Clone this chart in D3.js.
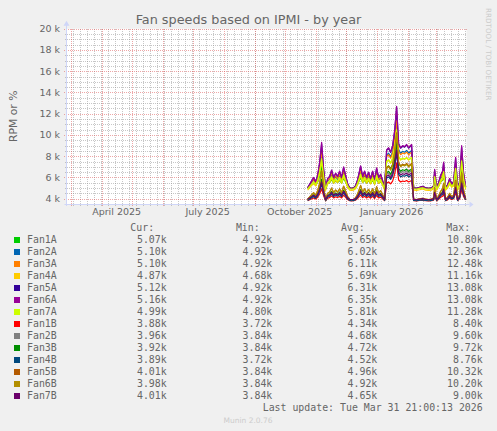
<!DOCTYPE html>
<html>
<head>
<meta charset="utf-8">
<script src="https://d3js.org/d3.v7.min.js"></script>
<style>
    html, body { margin: 0; padding: 0; background: #f0f0f0; }
    svg { display: block; }
</style>
</head>
<body>
<div id="chart"></div>
<script>
// Sample dates (daily averages, every ~2 days)
const dates = [
    "2025-10-24", "2025-10-27", "2025-10-30", "2025-11-01", "2025-11-03", "2025-11-05", "2025-11-07", "2025-11-09", "2025-11-11", "2025-11-13",
    "2025-11-15", "2025-11-17", "2025-11-19", "2025-11-21", "2025-11-23", "2025-11-25", "2025-11-27", "2025-11-29", "2025-12-01", "2025-12-03",
    "2025-12-05", "2025-12-07", "2025-12-09", "2025-12-11", "2025-12-13", "2025-12-16", "2025-12-18", "2025-12-20", "2025-12-22", "2025-12-24",
    "2025-12-26", "2025-12-28", "2025-12-30", "2026-01-01", "2026-01-03", "2026-01-05", "2026-01-07", "2026-01-09",
    "2026-01-11", "2026-01-13", "2026-01-15", "2026-01-17", "2026-01-19", "2026-01-21", "2026-01-23", "2026-01-25", "2026-01-27", "2026-01-29", "2026-01-31", "2026-02-02", "2026-02-05",
    "2026-02-07", "2026-02-10", "2026-02-13", "2026-02-16", "2026-02-19", "2026-02-22", "2026-02-25", "2026-02-27", "2026-02-28",
    "2026-03-02", "2026-03-04", "2026-03-06", "2026-03-08", "2026-03-09", "2026-03-11", "2026-03-13", "2026-03-15", "2026-03-17", "2026-03-19",
    "2026-03-21", "2026-03-23", "2026-03-25", "2026-03-27", "2026-03-29", "2026-03-31"
];

// Fan speeds in thousands of RPM
const fan1A = [
    4.98, 5.22, 5.46, 5.27, 5.56, 6.14, 7.05, 5.85, 4.96, 5.42,
    5.51, 5.80, 5.46, 5.66, 5.51, 5.75, 5.46, 5.94, 5.56, 5.18,
    4.98, 4.96, 4.98, 5.08, 5.37, 5.99, 5.51, 5.75, 5.46, 5.70,
    5.42, 5.75, 5.37, 5.90, 5.46, 5.61, 5.32, 4.98,
    6.97, 7.08, 6.86, 7.19, 7.96, 9.22, 7.30, 7.08, 7.19, 7.13, 7.24, 7.08, 7.24,
    4.98, 4.96, 5.01, 5.06, 4.98, 4.96, 4.98, 5.08, 5.82,
    4.98, 5.22, 5.56, 5.75, 6.16, 4.98, 5.13, 5.42, 5.18, 5.27,
    6.38, 4.98, 5.27, 6.90, 5.66, 5.07
];
const fan2A = [
    5.01, 5.38, 5.76, 5.46, 5.91, 6.81, 8.23, 6.36, 4.97, 5.68,
    5.83, 6.28, 5.76, 6.06, 5.83, 6.21, 5.76, 6.51, 5.91, 5.31,
    5.01, 4.97, 5.01, 5.16, 5.61, 6.58, 5.83, 6.21, 5.76, 6.13,
    5.68, 6.21, 5.61, 6.43, 5.76, 5.98, 5.53, 5.01,
    8.11, 8.28, 7.94, 8.45, 9.66, 11.64, 8.63, 8.28, 8.45, 8.37, 8.54, 8.28, 8.54,
    5.01, 4.97, 5.05, 5.12, 5.01, 4.97, 5.01, 5.16, 6.32,
    5.01, 5.38, 5.91, 6.21, 6.85, 5.01, 5.23, 5.68, 5.31, 5.46,
    7.18, 5.01, 5.46, 8.01, 6.06, 5.10
];
const fan3A = [
    5.02, 5.42, 5.82, 5.50, 5.98, 6.94, 8.46, 6.46, 4.98, 5.74,
    5.90, 6.38, 5.82, 6.14, 5.90, 6.30, 5.82, 6.62, 5.98, 5.34,
    5.02, 4.98, 5.02, 5.18, 5.66, 6.70, 5.90, 6.30, 5.82, 6.22,
    5.74, 6.30, 5.66, 6.54, 5.82, 6.06, 5.58, 5.02,
    7.97, 8.14, 7.81, 8.30, 9.45, 11.34, 8.47, 8.14, 8.30, 8.22, 8.38, 8.14, 8.38,
    5.02, 4.98, 5.06, 5.14, 5.02, 4.98, 5.02, 5.18, 6.42,
    5.02, 5.42, 5.98, 6.30, 6.98, 5.02, 5.26, 5.74, 5.34, 5.50,
    7.34, 5.02, 5.50, 8.22, 6.14, 5.10
];
const fan4A = [
    4.81, 5.13, 5.45, 5.20, 5.58, 6.35, 7.56, 5.96, 4.78, 5.39,
    5.52, 5.90, 5.45, 5.71, 5.52, 5.84, 5.45, 6.09, 5.58, 5.07,
    4.81, 4.78, 4.81, 4.94, 5.32, 6.16, 5.52, 5.84, 5.45, 5.77,
    5.39, 5.84, 5.32, 6.03, 5.45, 5.64, 5.26, 4.81,
    7.48, 7.63, 7.33, 7.78, 8.81, 10.52, 7.93, 7.63, 7.78, 7.70, 7.85, 7.63, 7.85,
    4.81, 4.78, 4.84, 4.91, 4.81, 4.78, 4.81, 4.94, 5.93,
    4.81, 5.13, 5.58, 5.84, 6.38, 4.81, 5.00, 5.39, 5.07, 5.20,
    6.67, 4.81, 5.20, 7.37, 5.71, 4.87
];
const fan5A = [
    5.03, 5.51, 5.99, 5.60, 6.18, 7.33, 9.16, 6.76, 4.98, 5.89,
    6.08, 6.66, 5.99, 6.37, 6.08, 6.56, 5.99, 6.95, 6.18, 5.41,
    5.03, 4.98, 5.03, 5.22, 5.80, 7.04, 6.08, 6.56, 5.99, 6.47,
    5.89, 6.56, 5.80, 6.85, 5.99, 6.28, 5.70, 5.03,
    8.56, 8.75, 8.36, 8.95, 10.32, 12.58, 9.15, 8.75, 8.95, 8.85, 9.05, 8.75, 9.05,
    5.03, 4.98, 5.08, 5.17, 5.03, 4.98, 5.03, 5.22, 6.71,
    5.03, 5.51, 6.18, 6.56, 7.38, 5.03, 5.32, 5.89, 5.41, 5.60,
    7.81, 5.03, 5.60, 8.87, 6.37, 5.12
];
const fan6A = [
    5.00, 5.50, 6.00, 5.60, 6.20, 7.40, 9.30, 6.80, 4.95, 5.90,
    6.10, 6.70, 6.00, 6.40, 6.10, 6.60, 6.00, 7.00, 6.20, 5.40,
    5.00, 4.95, 5.00, 5.20, 5.80, 7.10, 6.10, 6.60, 6.00, 6.50,
    5.90, 6.60, 5.80, 6.90, 6.00, 6.30, 5.70, 5.00,
    8.60, 8.80, 8.40, 9.00, 10.40, 12.70, 9.20, 8.80, 9.00, 8.90, 9.10, 8.80, 9.10,
    5.00, 4.95, 5.05, 5.15, 5.00, 4.95, 5.00, 5.20, 6.75,
    5.00, 5.50, 6.20, 6.60, 7.45, 5.00, 5.30, 5.90, 5.40, 5.60,
    7.90, 5.00, 5.60, 9.00, 6.40, 5.16
];
const fan7A = [
    4.93, 5.26, 5.59, 5.33, 5.73, 6.52, 7.77, 6.12, 4.90, 5.53,
    5.66, 6.06, 5.59, 5.86, 5.66, 5.99, 5.59, 6.25, 5.73, 5.20,
    4.93, 4.90, 4.93, 5.07, 5.46, 6.32, 5.66, 5.99, 5.59, 5.92,
    5.53, 5.99, 5.46, 6.19, 5.59, 5.79, 5.40, 4.93,
    7.53, 7.67, 7.38, 7.82, 8.82, 10.48, 7.96, 7.67, 7.82, 7.74, 7.89, 7.67, 7.89,
    4.93, 4.90, 4.97, 5.03, 4.93, 4.90, 4.93, 5.07, 6.09,
    4.93, 5.26, 5.73, 5.99, 6.55, 4.93, 5.13, 5.53, 5.20, 5.33,
    6.85, 4.93, 5.33, 7.57, 5.86, 4.99
];
const fan1B = [
    3.81, 3.94, 4.07, 3.97, 4.13, 4.44, 4.93, 4.28, 3.80, 4.05,
    4.10, 4.26, 4.07, 4.18, 4.10, 4.23, 4.07, 4.33, 4.13, 3.92,
    3.81, 3.80, 3.81, 3.87, 4.02, 4.36, 4.10, 4.23, 4.07, 4.20,
    4.05, 4.23, 4.02, 4.31, 4.07, 4.15, 4.00, 3.81,
    5.48, 5.57, 5.39, 5.66, 6.31, 7.37, 5.76, 5.57, 5.66, 5.62, 5.71, 5.57, 5.71,
    3.81, 3.80, 3.83, 3.85, 3.81, 3.80, 3.81, 3.87, 4.27,
    3.81, 3.94, 4.13, 4.23, 4.45, 3.81, 3.89, 4.05, 3.92, 4.00,
    4.57, 3.81, 4.00, 4.85, 4.18, 3.88
];
const fan2B = [
    3.90, 4.11, 4.32, 4.15, 4.41, 4.91, 5.71, 4.66, 3.88, 4.28,
    4.36, 4.62, 4.32, 4.49, 4.36, 4.57, 4.32, 4.74, 4.41, 4.07,
    3.90, 3.88, 3.90, 3.99, 4.24, 4.78, 4.36, 4.57, 4.32, 4.53,
    4.28, 4.57, 4.24, 4.70, 4.32, 4.45, 4.20, 3.90,
    6.29, 6.42, 6.16, 6.55, 7.48, 9.00, 6.69, 6.42, 6.55, 6.49, 6.62, 6.42, 6.62,
    3.90, 3.88, 3.92, 3.96, 3.90, 3.88, 3.90, 3.99, 4.64,
    3.90, 4.11, 4.41, 4.57, 4.93, 3.90, 4.03, 4.28, 4.07, 4.15,
    5.12, 3.90, 4.15, 5.58, 4.49, 3.96
];
const fan3B = [
    3.90, 4.13, 4.35, 4.17, 4.44, 4.98, 5.84, 4.71, 3.88, 4.31,
    4.40, 4.67, 4.35, 4.53, 4.40, 4.62, 4.35, 4.80, 4.44, 4.08,
    3.90, 3.88, 3.90, 3.99, 4.26, 4.85, 4.40, 4.62, 4.35, 4.58,
    4.31, 4.62, 4.26, 4.76, 4.35, 4.49, 4.22, 3.90,
    6.44, 6.58, 6.30, 6.72, 7.70, 9.31, 6.86, 6.58, 6.72, 6.65, 6.79, 6.58, 6.79,
    3.90, 3.88, 3.93, 3.97, 3.90, 3.88, 3.90, 3.99, 4.69,
    3.90, 4.13, 4.44, 4.62, 5.01, 3.90, 4.04, 4.31, 4.08, 4.17,
    5.21, 3.90, 4.17, 5.70, 4.53, 3.92
];
const fan4B = [
    3.84, 4.02, 4.20, 4.05, 4.27, 4.70, 5.39, 4.49, 3.82, 4.16,
    4.23, 4.45, 4.20, 4.34, 4.23, 4.41, 4.20, 4.56, 4.27, 3.98,
    3.84, 3.82, 3.84, 3.91, 4.13, 4.59, 4.23, 4.41, 4.20, 4.38,
    4.16, 4.41, 4.13, 4.52, 4.20, 4.31, 4.09, 3.84,
    5.94, 6.05, 5.82, 6.17, 6.98, 8.32, 6.29, 6.05, 6.17, 6.11, 6.23, 6.05, 6.23,
    3.84, 3.82, 3.86, 3.89, 3.84, 3.82, 3.84, 3.91, 4.47,
    3.84, 4.02, 4.27, 4.41, 4.72, 3.84, 3.95, 4.16, 3.98, 4.05,
    4.88, 3.84, 4.05, 5.28, 4.34, 3.89
];
const fan5B = [
    3.95, 4.26, 4.57, 4.32, 4.70, 5.44, 6.62, 5.07, 3.92, 4.51,
    4.63, 5.01, 4.57, 4.82, 4.63, 4.94, 4.57, 5.19, 4.70, 4.20,
    3.95, 3.92, 3.95, 4.08, 4.45, 5.25, 4.63, 4.94, 4.57, 4.88,
    4.51, 4.94, 4.45, 5.13, 4.57, 4.76, 4.39, 3.95,
    6.91, 7.08, 6.75, 7.24, 8.39, 10.20, 7.41, 7.08, 7.24, 7.16, 7.32, 7.08, 7.32,
    3.95, 3.92, 3.98, 4.04, 3.95, 3.92, 3.95, 4.08, 5.04,
    3.95, 4.26, 4.70, 4.94, 5.47, 3.95, 4.14, 4.51, 4.20, 4.32,
    5.75, 3.95, 4.32, 6.43, 4.82, 4.01
];
const fan6B = [
    3.95, 4.25, 4.55, 4.31, 4.67, 5.39, 6.53, 5.03, 3.92, 4.49,
    4.61, 4.97, 4.55, 4.79, 4.61, 4.91, 4.55, 5.15, 4.67, 4.19,
    3.95, 3.92, 3.95, 4.07, 4.43, 5.21, 4.61, 4.91, 4.55, 4.85,
    4.49, 4.91, 4.43, 5.09, 4.55, 4.73, 4.37, 3.95,
    6.84, 7.00, 6.68, 7.16, 8.28, 10.10, 7.32, 7.00, 7.16, 7.08, 7.24, 7.00, 7.24,
    3.95, 3.92, 3.98, 4.04, 3.95, 3.92, 3.95, 4.07, 5.00,
    3.95, 4.25, 4.67, 4.91, 5.42, 3.95, 4.13, 4.49, 4.19, 4.31,
    5.69, 3.95, 4.31, 6.35, 4.79, 3.98
];
const fan7B = [
    3.94, 4.13, 4.32, 4.17, 4.40, 4.85, 5.57, 4.62, 3.92, 4.28,
    4.36, 4.59, 4.32, 4.47, 4.36, 4.55, 4.32, 4.70, 4.40, 4.09,
    3.94, 3.92, 3.94, 4.02, 4.24, 4.74, 4.36, 4.55, 4.32, 4.51,
    4.28, 4.55, 4.24, 4.66, 4.32, 4.43, 4.21, 3.94,
    6.11, 6.23, 5.99, 6.35, 7.19, 8.57, 6.47, 6.23, 6.35, 6.29, 6.41, 6.23, 6.41,
    3.94, 3.92, 3.96, 4.00, 3.94, 3.92, 3.94, 4.02, 4.60,
    3.94, 4.13, 4.40, 4.55, 4.87, 3.94, 4.05, 4.28, 4.09, 4.17,
    5.04, 3.94, 4.17, 5.46, 4.47, 4.01
];

const seriesNames = ["Fan1A", "Fan2A", "Fan3A", "Fan4A", "Fan5A", "Fan6A", "Fan7A",
                     "Fan1B", "Fan2B", "Fan3B", "Fan4B", "Fan5B", "Fan6B", "Fan7B"];
const seriesValues = [fan1A, fan2A, fan3A, fan4A, fan5A, fan6A, fan7A,
                      fan1B, fan2B, fan3B, fan4B, fan5B, fan6B, fan7B];
const seriesColors = ["#00CC00", "#0066B3", "#FF8000", "#FFCC00", "#330099", "#990099", "#CCFF00",
                      "#FF0000", "#808080", "#008F00", "#00487D", "#B35A00", "#B38F00", "#6B006B"];

// Legend statistics as printed
const curValues = ["5.07k", "5.10k", "5.10k", "4.87k", "5.12k", "5.16k", "4.99k",
                   "3.88k", "3.96k", "3.92k", "3.89k", "4.01k", "3.98k", "4.01k"];
const minValues = ["4.92k", "4.92k", "4.92k", "4.68k", "4.92k", "4.92k", "4.80k",
                   "3.72k", "3.84k", "3.84k", "3.72k", "3.84k", "3.84k", "3.84k"];
const avgValues = ["5.65k", "6.02k", "6.11k", "5.69k", "6.31k", "6.35k", "5.81k",
                   "4.34k", "4.68k", "4.72k", "4.52k", "4.96k", "4.92k", "4.65k"];
const maxValues = ["10.80k", "12.36k", "12.48k", "11.16k", "13.08k", "13.08k", "11.28k",
                   "8.40k", "9.60k", "9.72k", "8.76k", "10.32k", "10.20k", "9.00k"];

const yTicks = [4, 6, 8, 10, 12, 14, 16, 18, 20];
const titleText = "Fan speeds based on IPMI - by year";
const yLabel = "RPM or %";
const lastUpdate = "Last update: Tue Mar 31 21:00:13 2026";
const endTime = new Date(2026, 2, 31, 21, 0, 13);

const width = 497, height = 431;
const plotLeft = 66.5, plotRight = 466.5, plotTop = 28.7, plotBottom = 204;
const sans = "'DejaVu Sans', Verdana, sans-serif";
const mono = "'DejaVu Sans Mono', monospace";
const fontColor = "#666666";
const axisColor = "#CFD6F8";
const gridColor = "rgba(143,143,143,0.5)";
const mgridColor = "rgba(222,79,79,0.5)";

const parseDate = d3.timeParse("%Y-%m-%d");
const startTime = d3.timeDay.offset(endTime, -400);

const x = d3.scaleTime().domain([startTime, endTime]).range([plotLeft, plotRight]);
const y = d3.scaleLinear().domain([3.5, 20]).range([plotBottom, plotTop]);

const svg = d3.select("#chart").append("svg")
    .attr("width", width)
    .attr("height", height)
    .attr("viewBox", `0 0 ${width} ${height}`);

svg.append("rect").attr("width", width).attr("height", height).attr("fill", "#f0f0f0");
svg.append("rect")
    .attr("x", plotLeft).attr("y", plotTop)
    .attr("width", plotRight - plotLeft).attr("height", plotBottom - plotTop)
    .attr("fill", "#ffffff");

// Grid
const grid = svg.append("g").attr("shape-rendering", "crispEdges");
const px = v => Math.round(v) + 0.5;

const minorY = d3.range(3.5, 20.01, 0.5).filter(v => !yTicks.includes(v));
grid.selectAll(".hminor").data(minorY).enter().append("line")
    .attr("x1", plotLeft - 2).attr("x2", plotRight)
    .attr("y1", d => px(y(d))).attr("y2", d => px(y(d)))
    .attr("stroke", gridColor).attr("stroke-dasharray", "1,1");

const weeks = d3.timeMonday.range(startTime, endTime);
grid.selectAll(".vminor").data(weeks).enter().append("line")
    .attr("x1", d => px(x(d))).attr("x2", d => px(x(d)))
    .attr("y1", plotTop).attr("y2", plotBottom + 2)
    .attr("stroke", gridColor).attr("stroke-dasharray", "1,1");

grid.selectAll(".hmajor").data(yTicks).enter().append("line")
    .attr("x1", plotLeft - 3).attr("x2", plotRight)
    .attr("y1", d => px(y(d))).attr("y2", d => px(y(d)))
    .attr("stroke", mgridColor).attr("stroke-dasharray", "1,1");

const months = d3.timeMonth.range(startTime, endTime);
grid.selectAll(".vmajor").data(months).enter().append("line")
    .attr("x1", d => px(x(d))).attr("x2", d => px(x(d)))
    .attr("y1", plotTop).attr("y2", plotBottom + 3)
    .attr("stroke", mgridColor).attr("stroke-dasharray", "1,1");

// Axes
svg.append("line")
    .attr("x1", plotLeft).attr("x2", plotLeft)
    .attr("y1", plotBottom + 2).attr("y2", plotTop - 4)
    .attr("stroke", axisColor);
svg.append("line")
    .attr("x1", plotLeft - 2).attr("x2", plotRight + 3)
    .attr("y1", plotBottom + 0.5).attr("y2", plotBottom + 0.5)
    .attr("stroke", axisColor);
svg.append("path")
    .attr("d", `M${plotLeft - 3},${plotTop - 3}L${plotLeft},${plotTop - 8}L${plotLeft + 3},${plotTop - 3}Z`)
    .attr("fill", axisColor);
svg.append("path")
    .attr("d", `M${plotRight + 3},${plotBottom - 2.5}L${plotRight + 7},${plotBottom + 0.5}L${plotRight + 3},${plotBottom + 3.5}Z`)
    .attr("fill", axisColor);

// Y labels
svg.append("g").selectAll("text").data(yTicks).enter().append("text")
    .attr("x", 60)
    .attr("y", d => y(d) + 3.4)
    .attr("text-anchor", "end")
    .attr("font-family", sans)
    .attr("font-size", "9.5px")
    .attr("fill", fontColor)
    .text(d => `${d} k`);

// X labels, centred in the labelled month
const quarterMonths = months.filter(d => d.getMonth() % 3 === 0);
svg.append("g").selectAll("text").data(quarterMonths).enter().append("text")
    .attr("x", d => x(d3.timeDay.offset(d, 15)))
    .attr("y", 215.2)
    .attr("text-anchor", "middle")
    .attr("font-family", sans)
    .attr("font-size", "9.5px")
    .attr("fill", fontColor)
    .text(d => d3.timeFormat("%B %Y")(d));

// Title and side labels
svg.append("text")
    .attr("x", 248.5).attr("y", 23.5)
    .attr("text-anchor", "middle")
    .attr("font-family", sans)
    .attr("font-size", "12.8px")
    .attr("fill", fontColor)
    .text(titleText);

svg.append("text")
    .attr("transform", `translate(16.8,${(plotTop + plotBottom) / 2}) rotate(-90)`)
    .attr("text-anchor", "middle")
    .attr("font-family", sans)
    .attr("font-size", "10.8px")
    .attr("fill", fontColor)
    .text(yLabel);

svg.append("text")
    .attr("transform", "translate(485.5,8) rotate(90)")
    .attr("font-family", sans)
    .attr("font-size", "7.2px")
    .attr("fill", "#cccccc")
    .text("RRDTOOL / TOBI OETIKER");

// Lines
svg.append("clipPath").attr("id", "plot-clip")
    .append("rect")
    .attr("x", plotLeft).attr("y", plotTop - 1)
    .attr("width", plotRight - plotLeft + 1).attr("height", plotBottom - plotTop + 1);

const parsedDates = dates.map(parseDate);
const line = d3.line()
    .x(d => x(d.date))
    .y(d => y(d.value));

const linesGroup = svg.append("g").attr("clip-path", "url(#plot-clip)");
seriesValues.forEach((values, i) => {
    const points = values.map((v, j) => ({ date: parsedDates[j], value: v }));
    linesGroup.append("path")
        .datum(points)
        .attr("d", line)
        .attr("fill", "none")
        .attr("stroke", seriesColors[i])
        .attr("stroke-width", 1.2)
        .attr("stroke-linejoin", "round");
});

// Legend
const legend = svg.append("g")
    .attr("font-family", mono)
    .attr("font-size", "9.9px")
    .attr("fill", fontColor);

const columnEnds = [166.7, 272.3, 377.3, 482.7];
const headers = ["Cur:", "Min:", "Avg:", "Max:"];
headers.forEach((h, k) => {
    legend.append("text")
        .attr("x", columnEnds[k] - 12.6)
        .attr("y", 231.3)
        .attr("text-anchor", "end")
        .text(h);
});

const stats = [curValues, minValues, avgValues, maxValues];
seriesNames.forEach((name, i) => {
    const cy = 240 + i * 12;
    legend.append("rect")
        .attr("x", 14).attr("y", cy - 3)
        .attr("width", 6).attr("height", 6)
        .attr("fill", seriesColors[i]);
    legend.append("text")
        .attr("x", 27).attr("y", cy + 3.4)
        .text(name);
    stats.forEach((col, k) => {
        legend.append("text")
            .attr("x", columnEnds[k]).attr("y", cy + 3.4)
            .attr("text-anchor", "end")
            .text(col[i]);
    });
});

legend.append("text")
    .attr("x", 482.7).attr("y", 411.2)
    .attr("text-anchor", "end")
    .text(lastUpdate);

svg.append("text")
    .attr("x", 248).attr("y", 422.7)
    .attr("text-anchor", "middle")
    .attr("font-family", sans)
    .attr("font-size", "7.5px")
    .attr("fill", "#cccccc")
    .text("Munin 2.0.76");
</script>
</body>
</html>
